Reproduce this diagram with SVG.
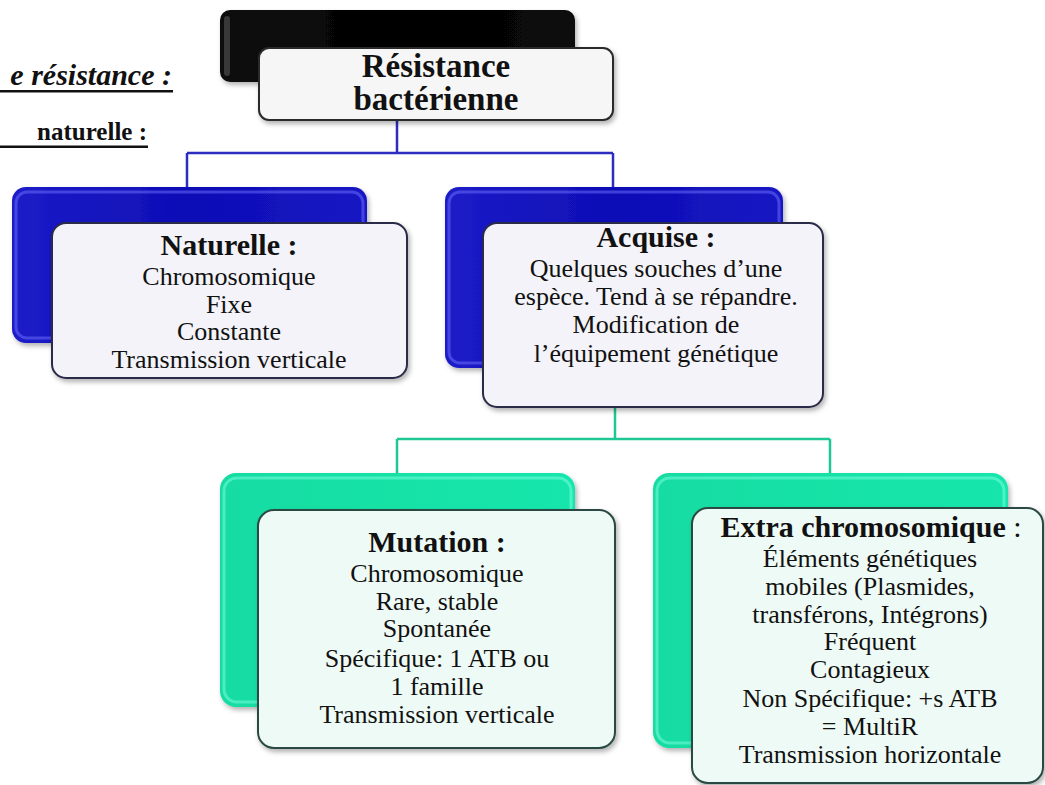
<svg xmlns="http://www.w3.org/2000/svg" width="1045" height="785" viewBox="0 0 1045 785">
<style>
  text { font-family: "Liberation Serif", "Times New Roman", serif; fill: #111; text-anchor: middle; }
  .h { font-weight: bold; font-size: 30px; }
  .t { font-size: 26px; }
  .title { font-weight: bold; font-size: 33px; }
  .wb { fill: #f3f3f9; stroke: #2a2a48; stroke-width: 2; }
  .wg { fill: #eefaf5; stroke: #2c4a42; stroke-width: 2; }
  .blue { fill: url(#gBlue); }
  .teal { fill: url(#gTeal); }
  .conB { fill: none; stroke: #2c2cc0; stroke-width: 2.5; }
  .conT { fill: none; stroke: #1ec894; stroke-width: 2.5; }
  .hl { fill: none; stroke-width: 3; stroke-opacity: 0.5; }
</style>
<defs>
  <linearGradient id="gBlue" x1="0" y1="0" x2="1" y2="0">
    <stop offset="0" stop-color="#1c1cc8"/>
    <stop offset="0.5" stop-color="#0e0eb6"/>
    <stop offset="1" stop-color="#1616c4"/>
  </linearGradient>
  <linearGradient id="gTeal" x1="0" y1="0" x2="1" y2="0">
    <stop offset="0" stop-color="#18dca2"/>
    <stop offset="0.5" stop-color="#12e2a6"/>
    <stop offset="1" stop-color="#16e6ac"/>
  </linearGradient>
  <linearGradient id="gBlack" x1="0" y1="0" x2="1" y2="0">
    <stop offset="0" stop-color="#111"/>
    <stop offset="0.5" stop-color="#000"/>
    <stop offset="1" stop-color="#0a0a0a"/>
  </linearGradient>
  <filter id="sh" x="-10%" y="-10%" width="125%" height="130%">
    <feDropShadow dx="2" dy="3" stdDeviation="2.5" flood-color="#000" flood-opacity="0.3"/>
  </filter>
</defs>
<rect width="1045" height="785" fill="#ffffff"/>

<g id="page-titles">
  <text x="172" y="85" style="font-weight:bold;font-style:italic;font-size:30px;text-anchor:end">e résistance :</text>
  <rect x="0" y="90" width="173" height="2.5" fill="#111"/>
  <text x="147" y="140" style="font-weight:bold;font-size:25px;text-anchor:end">naturelle :</text>
  <rect x="0" y="145.5" width="148" height="2.5" fill="#111"/>
</g>

<g id="connectors">
  <path class="conB" d="M397,120 V153 M187,153 H613 M187,153 V187 M613,153 V187"/>
  <path class="conT" d="M615,407 V439 M397,439 H830 M397,439 V473 M830,439 V473"/>
</g>

<g id="node-root">
  <rect x="220" y="10" width="355" height="72" rx="10" fill="url(#gBlack)" filter="url(#sh)"/>
  <rect x="224" y="16" width="6" height="60" rx="3" fill="#555" opacity="0.6"/>
  <rect x="259" y="48" width="354" height="72" rx="10" fill="#f6f6f6" stroke="#2a2a2a" stroke-width="2" filter="url(#sh)"/>
  <text class="title" x="436" y="77">Résistance</text>
  <text class="title" x="436" y="110">bactérienne</text>
</g>

<g id="node-naturelle">
  <rect class="blue" x="12" y="187" width="355" height="156" rx="14" filter="url(#sh)"/>
  <rect class="hl" x="16" y="192" width="347" height="146" rx="11" stroke="#7070ff"/>
  <rect class="wb" x="52" y="223" width="355" height="155" rx="14" filter="url(#sh)"/>
  <text class="h" x="229" y="255">Naturelle :</text>
  <text class="t" x="229" y="285">Chromosomique</text>
  <text class="t" x="229" y="313">Fixe</text>
  <text class="t" x="229" y="340">Constante</text>
  <text class="t" x="229" y="368">Transmission  verticale</text>
</g>

<g id="node-acquise">
  <rect class="blue" x="445" y="187" width="338" height="181" rx="14" filter="url(#sh)"/>
  <rect class="hl" x="449" y="192" width="330" height="171" rx="11" stroke="#7070ff"/>
  <rect class="wb" x="483" y="223" width="340" height="184" rx="14" filter="url(#sh)"/>
  <text class="h" x="656" y="247">Acquise :</text>
  <text class="t" x="656" y="277">Quelques  souches  d’une</text>
  <text class="t" x="656" y="305">espèce.  Tend à se répandre.</text>
  <text class="t" x="656" y="333">Modification  de</text>
  <text class="t" x="656" y="362">l’équipement  génétique</text>
</g>

<g id="node-mutation">
  <rect class="teal" x="220" y="473" width="355" height="234" rx="16" filter="url(#sh)"/>
  <rect class="hl" x="224" y="478" width="347" height="224" rx="13" stroke="#80ffe0"/>
  <rect class="wg" x="258" y="510" width="357" height="238" rx="16" filter="url(#sh)"/>
  <text class="h" x="437" y="552">Mutation :</text>
  <text class="t" x="437" y="582">Chromosomique</text>
  <text class="t" x="437" y="610">Rare, stable</text>
  <text class="t" x="437" y="637">Spontanée</text>
  <text class="t" x="437" y="667">Spécifique:  1 ATB ou</text>
  <text class="t" x="437" y="695">1 famille</text>
  <text class="t" x="437" y="723">Transmission  verticale</text>
</g>

<g id="node-extra">
  <rect class="teal" x="653" y="473" width="355" height="275" rx="16" filter="url(#sh)"/>
  <rect class="hl" x="657" y="478" width="347" height="265" rx="13" stroke="#80ffe0"/>
  <rect class="wg" x="692" y="508" width="351" height="275" rx="16" filter="url(#sh)"/>
  <text x="871" y="537" style="font-size:30px"><tspan font-weight="bold">Extra chromosomique</tspan> :</text>
  <text class="t" x="870" y="567">Éléments  génétiques</text>
  <text class="t" x="870" y="595">mobiles  (Plasmides,</text>
  <text class="t" x="870" y="623">transférons,  Intégrons)</text>
  <text class="t" x="870" y="650">Fréquent</text>
  <text class="t" x="870" y="678">Contagieux</text>
  <text class="t" x="870" y="707">Non Spécifique:  +s ATB</text>
  <text class="t" x="870" y="735">= MultiR</text>
  <text class="t" x="870" y="763">Transmission  horizontale</text>
</g>
</svg>
